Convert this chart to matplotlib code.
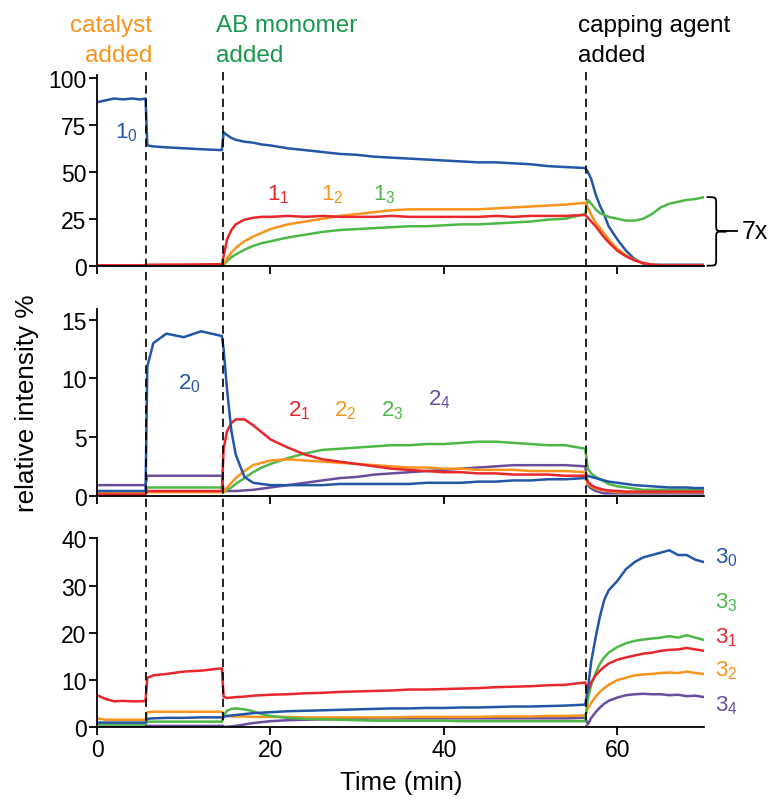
import matplotlib
matplotlib.use("Agg")
import matplotlib.pyplot as plt
import matplotlib.transforms as mtransforms
from matplotlib.lines import Line2D
from matplotlib.path import Path
from matplotlib.patches import PathPatch

plt.rcParams['font.family'] = ['Liberation Sans', 'DejaVu Sans']
plt.rcParams['font.size'] = 16.5

# time axis shared by all traces (min)
time_min = [0, 1, 2, 3, 4, 5, 5.6, 5.8, 6.5, 8, 10, 12, 14.4, 14.6, 15, 15.5, 16, 17, 18, 19, 20,
            22, 24, 26, 28, 30, 32, 34, 36, 38, 40, 42, 44, 46, 48, 50, 52, 54,
            56.3, 56.6, 57, 57.5, 58, 58.5, 59,
            60, 61, 62, 63, 64, 65, 66, 67, 68, 69, 70]

# events (min)
event_times = [5.7, 14.5, 56.35]

# panel 1 (relative intensity %, 1_n shown 7x)
s1_0 = ([87, 88, 89, 88.5, 89, 88.5, 89, 64, 63.5, 63, 62.5, 62, 61.5, 71, 69.5, 68, 67, 66, 65.5, 64.5, 64]
        + [62.5, 61.5, 60.5, 59.5, 59, 58, 57.5, 57, 56.5, 56, 55.5, 55, 55, 54.5, 54, 53, 52.5]
        + [52, 50, 46, 38, 32, 27, 21]
        + [14, 8, 3.5, 1.2, 0.6, 0.5, 0.5, 0.5, 0.5, 0.5, 0.5])
s1_1 = ([0.2] * 7 + [0.5, 0.5, 0.6, 0.6, 0.7, 0.8, 5, 14, 19, 22, 24.5, 25.5, 26, 26]
        + [26.5, 26, 26.5, 26, 26, 26, 26.5, 26, 26, 26, 26, 26, 26.5, 26, 26.5, 26.5, 26.5]
        + [27, 25.5, 23.5, 21, 18, 15, 12.5]
        + [8, 5, 2.8, 1.3, 0.5, 0.2, 0.2, 0.2, 0.2, 0.2, 0.2])
s1_2 = ([0.1] * 7 + [0.3] * 6 + [1, 4, 7, 9.5, 13, 15.5, 17.5, 19.5]
        + [22, 23.5, 25, 26.5, 27.5, 28.5, 29.5, 30, 30, 30, 30, 30, 30.5, 31, 31.5, 32, 32.5]
        + [33.5, 31, 27, 23, 20, 17, 14]
        + [9, 5.5, 3, 1.4, 0.6, 0.3, 0.3, 0.3, 0.3, 0.3, 0.3])
s1_3 = ([0] * 7 + [0.2] * 6 + [0.5, 2.5, 4.5, 6, 8.5, 10.5, 12, 13]
        + [15, 16.5, 18, 19, 19.5, 20, 20.5, 21, 21, 21.5, 22, 22, 22.5, 23, 23.5, 24.5, 25]
        + [27.5, 35, 33, 30, 28, 27, 26]
        + [25, 24, 24, 25, 27.5, 31, 33, 34, 35, 35.5, 36.5])

# panel 2
s2_0 = ([0.4] * 7 + [11, 13, 13.8, 13.5, 14, 13.6, 12.5, 9, 5.5, 3.5, 1.6, 1.1, 1.0, 0.9]
        + [0.9, 0.9, 0.9, 1.0, 1.0, 1.0, 1.0, 1.0, 1.1, 1.1, 1.1, 1.2, 1.2, 1.3, 1.3, 1.4, 1.4]
        + [1.5, 1.7, 1.6, 1.5, 1.4, 1.3, 1.2]
        + [1.1, 1.0, 0.9, 0.85, 0.8, 0.75, 0.7, 0.7, 0.7, 0.65, 0.65])
s2_1 = ([0.1] * 7 + [0.4] * 6 + [4, 5.5, 6.2, 6.5, 6.5, 6.0, 5.4, 4.8]
        + [4.1, 3.5, 3.1, 2.9, 2.7, 2.5, 2.3, 2.2, 2.1, 2.0, 2.0, 1.9, 1.9, 1.8, 1.8, 1.8, 1.7]
        + [1.7, 1.2, 0.9, 0.7, 0.6, 0.5, 0.45]
        + [0.4] + [0.35] * 10)
s2_2 = ([0.2] * 7 + [0.3] * 6 + [0.3, 0.7, 1.1, 1.5, 2.1, 2.6, 2.8, 3.0]
        + [3.1, 3.0, 2.9, 2.8, 2.7, 2.6, 2.5, 2.4, 2.4, 2.3, 2.3, 2.2, 2.2, 2.2, 2.1, 2.1, 2.1]
        + [2.0, 1.0, 0.8, 0.6, 0.5, 0.45, 0.4]
        + [0.3] * 11)
s2_3 = ([0.3] * 7 + [0.7] * 6 + [0.3, 0.5, 0.7, 1.0, 1.5, 2.0, 2.4, 2.7]
        + [3.2, 3.6, 3.9, 4.0, 4.1, 4.2, 4.3, 4.3, 4.4, 4.4, 4.5, 4.6, 4.6, 4.5, 4.4, 4.3, 4.3]
        + [4.0, 2.3, 1.9, 1.6, 1.4, 1.2, 1.0]
        + [0.8, 0.7, 0.6] + [0.5] * 8)
s2_4 = ([0.9] * 7 + [1.7] * 6 + [0.4, 0.4, 0.4, 0.4, 0.45, 0.5, 0.6, 0.7]
        + [0.9, 1.1, 1.3, 1.5, 1.6, 1.8, 1.9, 2.0, 2.1, 2.2, 2.3, 2.4, 2.5, 2.6, 2.6, 2.6, 2.6]
        + [2.5, 0.9, 0.6, 0.4, 0.3, 0.2, 0.2]
        + [0.2] * 11)

# panel 3
s3_0 = ([1.0] * 7 + [1.8, 1.9, 2.0, 2.0, 2.1, 2.1, 2.2, 2.4, 2.5, 2.6, 2.8, 3.0, 3.1, 3.2]
        + [3.4, 3.5, 3.6, 3.7, 3.8, 3.9, 4.0, 4.0, 4.1, 4.1, 4.2, 4.2, 4.3, 4.4, 4.4, 4.5, 4.6]
        + [4.8, 8, 14, 19, 23.5, 27, 29]
        + [31, 33.5, 35, 36, 36.5, 37, 37.5, 36.5, 36.5, 35.5, 35])
s3_1 = ([6.8, 6.0, 5.5, 5.6, 5.5, 5.5, 5.6, 10.5, 11.0, 11.3, 11.8, 12.0, 12.5,
         6.5, 6.2, 6.3, 6.4, 6.5, 6.7, 6.8, 6.9]
        + [7.0, 7.2, 7.3, 7.5, 7.6, 7.7, 7.8, 8.0, 8.0, 8.1, 8.2, 8.3, 8.5, 8.6, 8.7, 8.9, 9.0]
        + [9.5, 7.5, 9.5, 11, 12, 12.8, 13.5]
        + [14.3, 14.8, 15.2, 15.6, 15.8, 16.2, 16.4, 16.5, 16.8, 16.5, 16.2])
s3_2 = ([1.9, 1.6, 1.6, 1.6, 1.6, 1.6, 1.6, 3.2, 3.3, 3.3, 3.3, 3.3, 3.3,
         2.5, 2.4, 2.3, 2.3, 2.3, 2.2, 2.2, 2.2]
        + [2.2, 2.1, 2.1, 2.1, 2.1, 2.1, 2.1, 2.2, 2.2, 2.2, 2.2, 2.2, 2.3, 2.3, 2.3, 2.4, 2.4]
        + [2.5, 4, 5.2, 6.5, 7.5, 8.3, 9]
        + [10, 10.5, 11, 11.2, 11.3, 11.5, 11.6, 11.5, 11.8, 11.5, 11.3])
s3_3 = ([0.6] * 7 + [1.2] * 6 + [2.5, 3.5, 3.9, 4.0, 3.8, 3.4, 2.8, 2.4]
        + [2.0, 1.8, 1.7, 1.6, 1.5, 1.4, 1.4, 1.4, 1.4, 1.4, 1.3, 1.3, 1.3, 1.3, 1.3, 1.3, 1.3]
        + [1.3, 6, 9, 11.5, 13.5, 14.8, 15.8]
        + [17, 17.8, 18.3, 18.6, 18.8, 19, 19.3, 19, 19.5, 19, 18.5])
s3_4 = ([0.1] * 7 + [0.3] * 6 + [0.1, 0.1, 0.2, 0.3, 0.6, 0.9, 1.1, 1.3]
        + [1.5, 1.6, 1.7, 1.8, 1.8] + [1.9] * 12
        + [2.0, 0.6, 2.0, 3.2, 4.2, 5.0, 5.6]
        + [6.3, 6.8, 7.0, 7.1, 7.0, 7.0, 6.8, 6.9, 6.6, 6.7, 6.4])

blue, red, orange, green, purple = '#2356A6', '#E8262B', '#F7941D', '#4DB848', '#6A4E9E'
dark_green = '#17984A'

W, H = 769, 804
fig = plt.figure(figsize=(W / 100, H / 100), dpi=100)


def px_axes(left, top, right, bottom):
    return fig.add_axes([left / W, 1 - bottom / H, (right - left) / W, (bottom - top) / H])


ax1 = px_axes(97, 76, 704, 266.7)
ax2 = px_axes(97, 310, 704, 496.7)
ax3 = px_axes(97, 539, 704, 728.3)

panels = [
    (ax1, [(s1_0, blue), (s1_3, green), (s1_2, orange), (s1_1, red)], (0, 101.5), [0, 25, 50, 75, 100]),
    (ax2, [(s2_4, purple), (s2_3, green), (s2_2, orange), (s2_1, red), (s2_0, blue)], (0, 15.9), [0, 5, 10, 15]),
    (ax3, [(s3_4, purple), (s3_2, orange), (s3_3, green), (s3_1, red), (s3_0, blue)], (0, 40.1), [0, 10, 20, 30, 40]),
]
for ax, series, ylim, yticks in panels:
    for vals, c in series:
        ax.plot(time_min, vals, color=c, lw=1.8)
    ax.set_xlim(0, 70)
    ax.set_ylim(*ylim)
    ax.set_yticks(yticks)
    ax.set_xticks([0, 20, 40, 60])
    for side in ['top', 'right']:
        ax.spines[side].set_visible(False)
    for side in ['left', 'bottom']:
        ax.spines[side].set_linewidth(1.3)
    ax.tick_params(direction='out', length=6, width=1.3, pad=1.5, labelsize=16.5)
    ax.patch.set_alpha(0)
ax1.tick_params(axis='x', labelbottom=False)
ax2.tick_params(axis='x', labelbottom=False)

# dashed event lines running through all panels
trans = mtransforms.blended_transform_factory(ax3.transData, fig.transFigure)
for t in event_times:
    fig.add_artist(Line2D([t, t], [1 - 73 / H, 1 - 728.3 / H], transform=trans,
                          color='black', lw=1.2, ls=(0, (5, 3))))


# event labels
def fig_label(x, y, s, color, ha):
    fig.text(x / W, 1 - y / H, s, color=color, ha=ha, va='baseline', fontsize=17.5)


fig_label(152, 32, 'catalyst', orange, 'right')
fig_label(152, 62, 'added', orange, 'right')
fig_label(216, 32, 'AB monomer', dark_green, 'left')
fig_label(216, 62, 'added', dark_green, 'left')
fig_label(578, 32, 'capping agent', 'black', 'left')
fig_label(578, 62, 'added', 'black', 'left')

# series labels
lab = lambda ax, x, y, s, c: ax.text(x, y, r'$\mathregular{' + s + '}$', color=c, fontsize=16,
                                      va='baseline', ha='left', clip_on=False)
lab(ax1, 2.1, 68.5, '1_0', blue)
lab(ax1, 19.6, 35.5, '1_1', red)
lab(ax1, 25.8, 35.5, '1_2', orange)
lab(ax1, 31.8, 35.5, '1_3', green)
lab(ax2, 9.3, 9.1, '2_0', blue)
lab(ax2, 22.0, 6.8, '2_1', red)
lab(ax2, 27.3, 6.8, '2_2', orange)
lab(ax2, 32.7, 6.8, '2_3', green)
lab(ax2, 38.2, 7.8, '2_4', purple)
lab(ax3, 71.3, 35.0, '3_0', blue)
lab(ax3, 71.3, 25.5, '3_3', green)
lab(ax3, 71.3, 18.0, '3_1', red)
lab(ax3, 71.3, 10.9, '3_2', orange)
lab(ax3, 71.3, 3.5, '3_4', purple)

# curly brace marking the 7x scaled traces
y0, y1 = 0, s1_3[-1]
ym = (y0 + y1) / 2
xl, xm, xr, d = 70.3, 71.4, 72.6, 3.5
verts = [(xl, y1), (xm, y1), (xm, y1), (xm, y1 - d), (xm, ym + d), (xm, ym), (xm, ym), (xr, ym),
         (xm, ym), (xm, ym), (xm, ym - d), (xm, y0 + d), (xm, y0), (xm, y0), (xl, y0)]
codes = [Path.MOVETO, Path.CURVE4, Path.CURVE4, Path.CURVE4, Path.LINETO, Path.CURVE4, Path.CURVE4, Path.CURVE4,
         Path.CURVE4, Path.CURVE4, Path.CURVE4, Path.LINETO, Path.CURVE4, Path.CURVE4, Path.CURVE4]
ax1.add_patch(PathPatch(Path(verts, codes), fill=False, lw=1.3, color='black', clip_on=False))
ax1.plot([xr, xr + 1.2], [ym, ym], color='black', lw=1.3, clip_on=False)
ax1.text(74.4, ym, '7x', va='center', ha='left', fontsize=18, clip_on=False)

fig.text(27 / W, 1 - 403 / H, 'relative intensity %', rotation=90, ha='center', va='center', fontsize=18.8)
fig.text(401 / W, 1 - 783 / H, 'Time (min)', ha='center', va='center', fontsize=18.6)

fig.savefig('out.png', dpi=100)
